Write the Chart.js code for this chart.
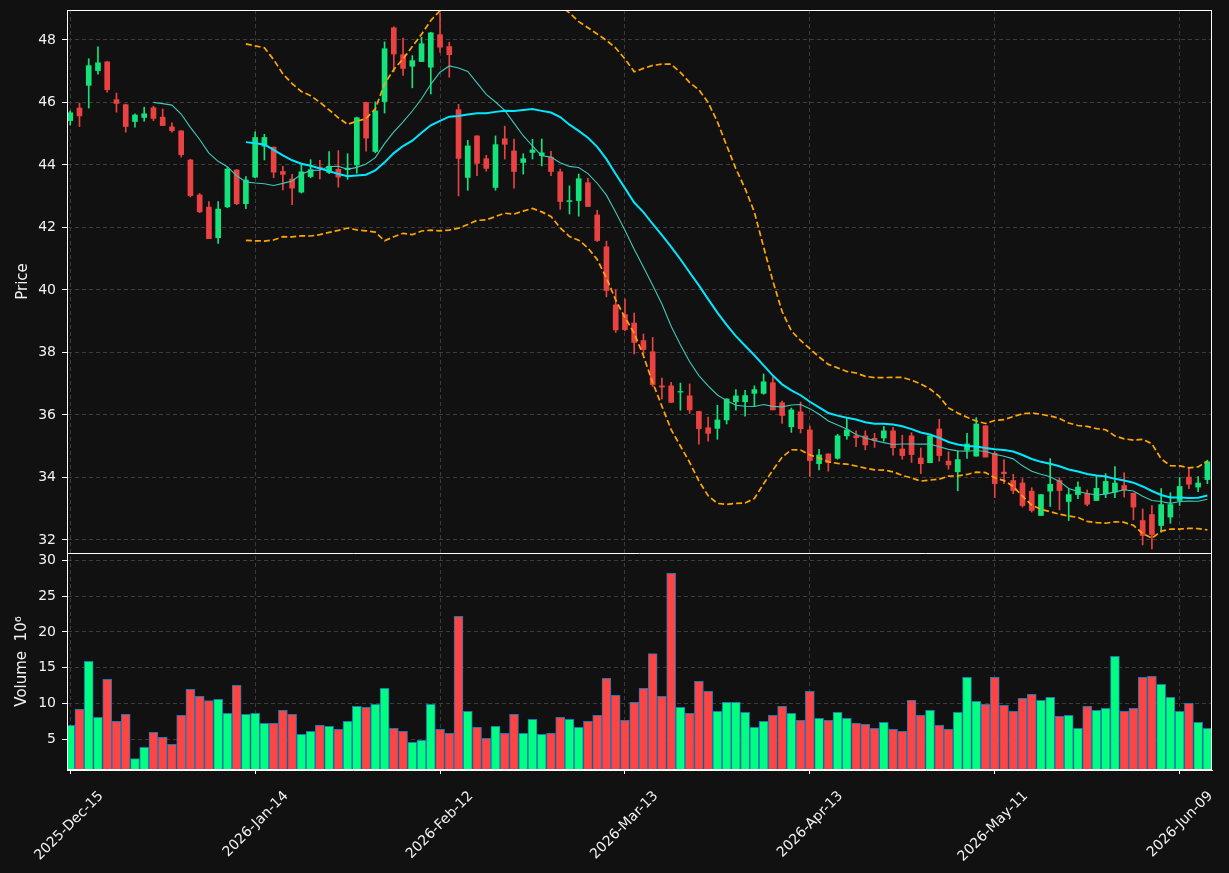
<!DOCTYPE html>
<html>
<head>
<meta charset="utf-8">
<title>Price and volume</title>
<script src="https://cdn.jsdelivr.net/npm/chart.js@4.4.1/dist/chart.umd.min.js"></script>
<style>
    html, body { margin: 0; padding: 0; background: #111111; }
    #wrap { width: 1229px; height: 873px; }
</style>
</head>
<body>
<div id="wrap"><canvas id="priceChart" width="1229" height="873"></canvas></div>
<script>
// Daily candles (one entry per trading day)
const opens = [
    45.42, 45.82, 46.55, 47.02, 47.30, 46.09, 45.93, 45.39, 45.52, 45.83,
    45.53, 45.22, 45.09, 44.16, 43.04, 42.65, 41.67, 42.66, 43.84, 42.76,
    43.61, 44.60, 44.57, 43.79, 43.55, 43.13, 43.63, 43.93, 43.76, 43.86,
    43.85, 44.00, 46.00, 44.43, 46.03, 48.39, 47.53, 47.16, 47.31, 47.13,
    48.17, 47.79, 45.77, 43.60, 44.93, 44.20, 43.28, 44.84, 44.45, 44.08,
    44.40, 44.30, 44.25, 43.78, 42.83, 42.86, 43.43, 42.40, 41.38, 39.52,
    39.21, 38.94, 38.38, 38.02, 36.93, 36.93, 36.73, 36.61, 36.11, 35.59,
    35.57, 35.84, 36.42, 36.42, 36.69, 36.69, 37.03, 36.39, 35.62, 36.10,
    35.52, 34.44, 34.75, 34.61, 35.33, 35.33, 35.33, 35.25, 35.26, 35.49,
    34.91, 35.33, 34.62, 34.47, 35.55, 34.52, 34.18, 34.87, 34.68, 35.65,
    34.77, 34.17, 33.90, 33.82, 33.56, 32.78, 33.56, 33.90, 33.23, 33.45,
    33.48, 33.26, 33.48, 33.53, 33.74, 33.49, 32.62, 32.81, 32.46, 32.73,
    33.26, 34.01, 33.69, 33.93
];
const highs = [
    45.73, 45.98, 47.40, 47.78, 47.32, 46.30, 45.95, 45.64, 45.85, 45.88,
    45.79, 45.35, 45.10, 44.18, 43.09, 42.83, 42.83, 43.92, 43.85, 43.63,
    45.06, 44.98, 44.58, 43.96, 43.70, 44.04, 44.17, 44.15, 44.43, 44.46,
    44.36, 45.53, 46.01, 46.02, 47.94, 48.42, 48.06, 47.50, 48.09, 48.25,
    48.85, 47.93, 45.94, 44.79, 44.94, 44.31, 44.93, 45.24, 44.83, 44.36,
    44.82, 44.83, 44.44, 43.87, 43.33, 43.71, 43.57, 42.55, 41.56, 40.00,
    39.71, 39.26, 38.59, 38.48, 37.18, 37.04, 37.02, 36.99, 36.12, 35.93,
    36.31, 36.52, 36.81, 36.79, 36.93, 37.31, 37.21, 36.44, 36.22, 36.41,
    35.64, 34.90, 34.76, 35.38, 35.88, 35.49, 35.49, 35.41, 35.63, 35.60,
    35.35, 35.43, 34.94, 35.33, 35.86, 34.82, 34.84, 35.41, 35.91, 35.66,
    34.82, 34.57, 34.10, 33.96, 33.67, 33.45, 34.60, 33.99, 33.64, 33.86,
    33.60, 34.06, 34.12, 34.35, 34.15, 33.50, 32.99, 33.10, 33.64, 33.51,
    34.00, 34.30, 34.03, 34.55
];
const lows = [
    45.28, 45.23, 45.82, 46.91, 46.33, 45.69, 45.05, 45.21, 45.40, 45.42,
    45.26, 45.05, 44.25, 42.98, 42.47, 41.64, 41.49, 42.63, 42.73, 42.60,
    43.59, 44.16, 43.59, 43.20, 42.73, 43.10, 43.59, 43.55, 43.72, 43.29,
    43.54, 43.74, 44.44, 44.39, 45.66, 46.98, 46.87, 46.47, 47.31, 46.27,
    47.60, 46.81, 43.01, 43.19, 43.66, 43.80, 43.19, 44.19, 43.26, 43.71,
    44.19, 43.97, 43.66, 42.58, 42.43, 42.36, 42.67, 41.55, 39.78, 38.64,
    38.70, 37.95, 37.96, 36.91, 36.51, 36.40, 36.15, 36.05, 35.06, 35.16,
    35.22, 35.71, 36.15, 35.96, 36.27, 36.66, 36.16, 35.73, 35.44, 35.42,
    34.03, 34.24, 34.20, 34.58, 35.22, 34.98, 34.88, 34.96, 35.16, 34.71,
    34.58, 34.48, 34.12, 34.47, 34.52, 34.26, 33.57, 34.61, 34.68, 34.65,
    33.35, 33.80, 33.48, 33.05, 32.89, 32.78, 33.07, 32.96, 32.62, 33.32,
    33.09, 33.26, 33.35, 33.35, 33.37, 32.64, 31.84, 31.71, 32.25, 32.53,
    33.10, 33.64, 33.54, 33.80
];
const closes = [
    45.67, 45.57, 47.18, 47.27, 46.41, 45.97, 45.23, 45.60, 45.64, 45.49,
    45.26, 45.10, 44.33, 43.02, 42.50, 41.64, 42.59, 43.87, 42.76, 43.52,
    44.88, 44.88, 43.77, 43.70, 43.26, 43.78, 43.85, 43.89, 43.96, 43.61,
    43.90, 45.51, 44.86, 45.73, 47.72, 47.55, 47.09, 47.34, 47.88, 48.23,
    47.77, 47.53, 44.21, 44.61, 44.05, 43.89, 44.65, 44.66, 43.79, 44.20,
    44.48, 44.39, 43.79, 42.83, 42.86, 43.56, 42.67, 41.58, 39.98, 38.72,
    38.73, 38.32, 38.09, 36.97, 36.89, 36.40, 36.75, 36.16, 35.56, 35.41,
    35.84, 36.51, 36.61, 36.62, 36.81, 37.06, 36.16, 35.98, 36.16, 35.56,
    34.54, 34.72, 34.47, 35.33, 35.52, 35.27, 35.04, 35.18, 35.49, 34.95,
    34.70, 34.73, 34.44, 35.33, 34.70, 34.40, 34.57, 35.07, 35.71, 34.65,
    33.80, 34.12, 33.58, 33.10, 32.94, 33.45, 33.78, 33.58, 33.45, 33.69,
    33.14, 33.65, 33.87, 33.82, 33.60, 33.05, 32.14, 32.17, 33.13, 33.13,
    33.71, 33.78, 33.82, 34.50
];
// Volume in millions
const volumes = [
    6.96, 9.19, 15.89, 8.07, 13.38, 7.51, 8.49, 2.30, 3.88, 5.98,
    5.28, 4.30, 8.35, 11.98, 11.01, 10.40, 10.59, 8.63, 12.54, 8.49,
    8.63, 7.23, 7.23, 9.05, 8.49, 5.70, 6.12, 6.96, 6.82, 6.40,
    7.51, 9.61, 9.47, 9.89, 12.12, 6.54, 6.12, 4.58, 4.86, 9.89,
    6.40, 5.84, 22.18, 8.91, 6.68, 5.14, 6.82, 5.84, 8.49, 5.84,
    7.79, 5.70, 5.84, 8.07, 7.79, 6.68, 7.51, 8.35, 13.52, 11.15,
    7.65, 10.17, 12.12, 16.96, 11.01, 28.18, 9.47, 8.63, 13.10, 11.70,
    8.91, 10.17, 10.17, 8.77, 6.68, 7.51, 8.35, 9.61, 8.63, 7.65,
    11.70, 7.93, 7.65, 8.77, 7.93, 7.23, 7.09, 6.54, 7.37, 6.40,
    6.12, 10.45, 8.35, 9.05, 6.96, 6.40, 8.77, 13.66, 10.31, 9.89,
    13.66, 9.75, 8.91, 10.73, 11.28, 10.45, 10.87, 8.21, 8.35, 6.54,
    9.61, 9.05, 9.33, 16.59, 8.91, 9.33, 13.66, 13.80, 12.68, 10.87,
    8.91, 10.03, 7.37, 6.54
];

// Axis labels
const tickIndex = [0, 20, 40, 60, 80, 100, 120];
const tickDates = ['2025-Dec-15', '2026-Jan-14', '2026-Feb-12', '2026-Mar-13', '2026-Apr-13', '2026-May-11', '2026-Jun-09'];
const priceTicks = [32, 34, 36, 38, 40, 42, 44, 46, 48];
const volumeTicks = [5, 10, 15, 20, 25, 30];

// Colores
const textColor = '#f2f2f2';
const gridColor = '#3c3c3c';
const upCandle = '#14e27a';
const downCandle = '#ea4242';
const upVolume = '#00ff80';
const downVolume = '#ff4444';

// Moving averages and bands, as the source chart derives them from the closes
const mean = arr => arr.reduce((s, v) => s + v, 0) / arr.length;
const stdev = arr => { const m = mean(arr); return Math.sqrt(mean(arr.map(v => (v - m) ** 2))); };
function rolling(values, n, fn) {
    return values.map((v, i) => i < n - 1 ? null : fn(values.slice(i - n + 1, i + 1)));
}
const ma10 = rolling(closes, 10, mean);
const ma20 = rolling(closes, 20, mean);
const sd20 = rolling(closes, 20, stdev);
const upperBand = ma20.map((m, i) => m === null ? null : m + 2 * sd20[i]);
const lowerBand = ma20.map((m, i) => m === null ? null : m - 2 * sd20[i]);

const isUp = closes.map((c, i) => c >= opens[i]);
const toPoints = arr => arr.map((v, i) => ({ x: i, y: v })).filter(p => p.y !== null);

// Marco blanco alrededor de los dos paneles
const framePlugin = {
    id: 'frame',
    afterDraw(chart) {
        const { ctx, chartArea: a, scales } = chart;
        ctx.save();
        ctx.strokeStyle = '#ffffff';
        ctx.lineWidth = 1;
        ctx.strokeRect(a.left + 0.5, a.top + 0.5, a.right - a.left - 1, a.bottom - a.top - 1);
        ctx.beginPath();
        ctx.moveTo(a.left, Math.round(scales.yv.top) + 0.5);
        ctx.lineTo(a.right, Math.round(scales.yv.top) + 0.5);
        ctx.stroke();
        ctx.restore();
    }
};

function yAxis(extra) {
    return Object.assign({
        type: 'linear',
        position: 'left',
        stack: 'panels',
        beginAtZero: false,
        grid: { color: gridColor, tickColor: '#ffffff', tickLength: 5, tickBorderDash: [] },
        border: { display: true, color: '#ffffff', dash: [4, 3] },
        afterFit: s => { s.width = 67; s.paddingTop = 0; s.paddingBottom = 0; }
    }, extra);
}

new Chart(document.getElementById('priceChart'), {
    type: 'bar',
    data: {
        datasets: [
            {
                type: 'line', label: 'MA20', yAxisID: 'y', order: 0,
                data: toPoints(ma20), borderColor: '#00e8ff', borderWidth: 2, pointRadius: 0, tension: 0
            },
            {
                type: 'line', label: 'MA10', yAxisID: 'y', order: 0,
                data: toPoints(ma10), borderColor: '#3fc8b8', borderWidth: 1.1, pointRadius: 0, tension: 0
            },
            {
                type: 'line', label: 'Upper', yAxisID: 'y', order: 0,
                data: toPoints(upperBand), borderColor: '#ffa500', borderWidth: 1.7, borderDash: [6, 3], pointRadius: 0, tension: 0
            },
            {
                type: 'line', label: 'Lower', yAxisID: 'y', order: 0,
                data: toPoints(lowerBand), borderColor: '#ffa500', borderWidth: 1.7, borderDash: [6, 3], pointRadius: 0, tension: 0
            },
            {
                label: 'Body', yAxisID: 'y', order: 1, grouped: false,
                data: opens.map((o, i) => ({ x: i, y: [o, closes[i]] })),
                backgroundColor: isUp.map(u => u ? upCandle : downCandle),
                barThickness: 5
            },
            {
                label: 'Wick', yAxisID: 'y', order: 2, grouped: false,
                data: lows.map((l, i) => ({ x: i, y: [l, highs[i]] })),
                backgroundColor: isUp.map(u => u ? upCandle : downCandle),
                barThickness: 1
            },
            {
                label: 'Volume', yAxisID: 'yv', order: 1, grouped: false,
                data: volumes.map((v, i) => ({ x: i, y: v })),
                backgroundColor: isUp.map(u => u ? upVolume : downVolume),
                borderColor: '#1f77b4', borderWidth: 1, borderSkipped: false,
                barThickness: 9
            }
        ]
    },
    options: {
        responsive: false,
        animation: false,
        devicePixelRatio: 1,
        events: [],
        layout: { padding: { top: 10, right: 17, bottom: 0, left: 0 } },
        plugins: { legend: { display: false }, tooltip: { enabled: false } },
        font: { family: '"DejaVu Sans", sans-serif' },
        scales: {
            x: {
                type: 'linear',
                min: -0.35,
                max: 123.5,
                offset: false,
                grid: { color: gridColor, offset: false, tickColor: '#ffffff', tickLength: 4, tickBorderDash: [] },
                border: { display: true, color: '#ffffff', dash: [4, 3] },
                afterBuildTicks: s => { s.ticks = tickIndex.map(v => ({ value: v })); },
                ticks: {
                    autoSkip: false, minRotation: 45, maxRotation: 45,
                    labelOffset: 31, padding: 14,
                    color: textColor, font: { family: '"DejaVu Sans", sans-serif', size: 14 },
                    callback: (v, i) => tickDates[i]
                },
                afterFit: s => { s.height = 103; s.paddingLeft = 0; s.paddingRight = 0; }
            },
            yv: yAxis({
                stackWeight: 217,
                min: 0.72,
                max: 31.02,
                afterBuildTicks: s => { s.ticks = volumeTicks.map(v => ({ value: v })); },
                ticks: { color: textColor, padding: 6, font: { family: '"DejaVu Sans", sans-serif', size: 14 } },
                title: { display: true, text: 'Volume  10⁶', color: textColor, padding: { top: 13, bottom: 0 }, font: { family: '"DejaVu Sans", sans-serif', size: 15 } }
            }),
            y: yAxis({
                stackWeight: 543,
                min: 31.58,
                max: 48.96,
                afterBuildTicks: s => { s.ticks = priceTicks.map(v => ({ value: v })); },
                ticks: { color: textColor, padding: 6, font: { family: '"DejaVu Sans", sans-serif', size: 14 } },
                title: { display: true, text: 'Price', color: textColor, padding: { top: 14, bottom: 0 }, font: { family: '"DejaVu Sans", sans-serif', size: 15 } }
            })
        }
    },
    plugins: [framePlugin]
});
</script>
</body>
</html>
